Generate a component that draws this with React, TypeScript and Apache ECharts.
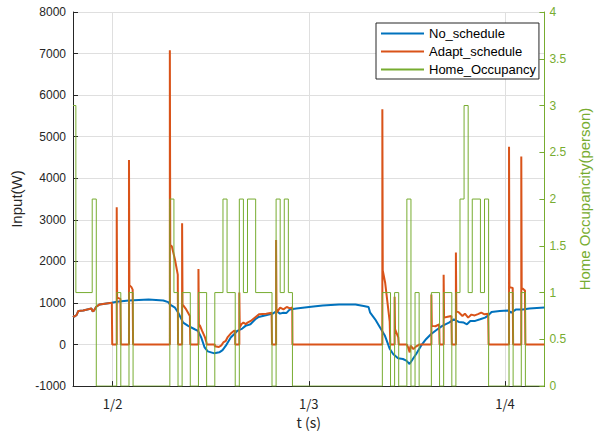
import React, { useEffect, useRef } from "react";
import * as echarts from "echarts";

// time in hours since 1/1 00:00
const xTickValues = [24, 48, 72];
const xTickLabels = ["1/2", "1/3", "1/4"];

const noSchedT = [19.15, 19.3, 19.6, 19.8, 20.4, 21.4, 21.55, 21.7, 22.0, 22.4, 23.9, 24.5, 26, 28.4, 30.2, 30.8, 31.03, 31.63, 32.03, 32.63, 33.24, 34.04, 34.44, 34.84, 35.25, 35.64, 36.45, 37.05, 37.45, 37.85, 38.45, 38.86, 39.26, 39.86, 40.26, 40.86, 41.46, 41.87, 42.87, 43.59, 44.07, 44.47, 44.88, 45.28, 45.68, 46.48, 48.29, 49.7, 51.7, 53.71, 54.71, 55.31, 55.51, 56.12, 56.72, 57.32, 57.92, 58.32, 58.92, 59.52, 59.93, 60.33, 60.73, 61.14, 61.74, 62.34, 62.94, 63.74, 64.34, 65.15, 65.75, 66.35, 66.96, 67.35, 67.76, 68.36, 68.96, 69.57, 69.96, 70.36, 71.37, 72.37, 72.77, 73.37, 74.18, 74.99, 76.83];
const noSchedV = [690, 670, 711, 807, 821, 869, 800, 810, 910, 965, 1005, 1030, 1060, 1084, 1060, 1020, 960, 886, 766, 528, 449, 368, 330, 170, -69, -165, -212, -188, -133, -28, 170, 248, 330, 384, 449, 487, 607, 664, 711, 743, 807, 743, 766, 760, 845, 869, 910, 941, 965, 965, 926, 902, 766, 607, 408, 210, -109, -229, -332, -348, -387, -468, -348, -229, -28, 129, 248, 368, 449, 528, 607, 544, 528, 487, 568, 568, 607, 647, 700, 783, 807, 821, 766, 845, 845, 869, 893];

const adaptT = [19.15, 19.3, 19.6, 19.8, 20.4, 21.4, 21.55, 21.7, 22.0, 22.4, 23.9, 23.95,
  24.5, 24.5, 24.55, 24.95, 25.0,
  26.0, 26.0, 26.05, 26.3, 26.45, 26.5,
  31.0, 31.0, 31.05, 31.25, 31.63, 31.97, 32.0,
  32.5, 32.5, 32.55, 33.0, 33.45, 33.5,
  34.5, 34.5, 34.55, 34.7, 34.95, 35.3, 35.48, 35.5,
  36.5, 36.5, 37.0, 37.3, 37.54, 37.85, 38.05, 38.45, 38.86, 39.0, 39.0,
  39.5, 39.5, 39.55, 39.75, 40.0, 40.3, 40.5, 40.9, 41.5, 41.9, 42.8, 43.45, 43.5,
  44.0, 44.0, 44.05, 44.5, 44.9, 45.3, 45.7, 45.98, 46.0,
  57.0, 57.0, 57.05, 57.35, 57.9, 57.97,
  58.5, 58.5, 58.55, 58.95, 59.0,
  60.0, 60.15, 60.35, 60.45, 60.6, 60.8, 61.1, 61.4, 61.5,
  63.0, 63.0, 63.05, 63.5, 63.95, 64.0,
  64.5, 64.5, 64.55, 65.0, 65.45, 65.5,
  66.0, 66.0, 66.05, 66.4, 66.8, 67.1, 67.5, 67.9, 68.3, 68.7, 69.1, 69.5, 69.95, 70.0,
  72.5, 72.5, 72.55, 72.95, 73.0,
  74.0, 74.0, 74.05, 74.45, 74.5,
  76.83];
const adaptV = [690, 670, 711, 807, 821, 869, 800, 810, 910, 965, 1005, 0,
  0, 3300, 1130, 1100, 0,
  0, 4440, 1430, 1380, 1320, 0,
  0, 7080, 2400, 2360, 2039, 1681, 0,
  0, 2915, 965, 845, 687, 0,
  0, 1817, 487, 449, 330, 170, 50, 0,
  0, -40, -60, -20, 50, 90, 170, 265, 330, 330, 0,
  0, 1250, 408, 487, 528, 490, 528, 568, 664, 726, 743, 766, 0,
  0, 2516, 766, 886, 845, 902, 870, 890, 0,
  0, 5660, 1780, 1480, 550, 0,
  0, 1150, 370, 170, 0,
  0, -69, -188, -28, -60, -110, -50, -15, 0,
  0, 1203, 449, 440, 487, 0,
  0, 1681, 647, 670, 687, 0,
  0, 2215, 807, 766, 687, 743, 647, 720, 700, 730, 766, 726, 740, 0,
  0, 4760, 1380, 1363, 0,
  0, 4521, 1363, 1300, 0,
  0];

const occT = [19.15, 19.5, 21.5, 22, 24.5, 25, 26, 26.5, 31, 31.5, 32, 32.5, 33.5, 34.5, 35.5, 36.5, 37.5, 38, 39, 39.5, 40, 40.5, 41.5, 43.5, 44, 44.5, 45, 45.5, 46, 57, 58, 58.5, 59, 60, 60.5, 61, 61.5, 63, 64, 64.5, 65.5, 66, 66.5, 67, 67.5, 68, 69, 69.5, 70, 72.5, 73, 74, 74.5, 76.83];
const occV = [3, 1, 2, 0, 1, 0, 1, 0, 2, 1, 0, 1, 0, 1, 0, 1, 2, 1, 0, 2, 1, 2, 1, 0, 2, 1, 2, 1, 0, 1, 0, 1, 0, 2, 0, 1, 0, 1, 0, 1, 0, 1, 2, 3, 1, 2, 1, 2, 0, 1, 0, 1, 0, 0];

const zip = (t: number[], v: number[]) => t.map((x, i) => [x, v[i]]);

const BLUE = "#0072BD";
const ORANGE = "#D95319";
const GREEN = "#77AC30";
const DARK = "#262626";
const GRID = "#dfdfdf";
const SANS = "'Liberation Sans', Arial, sans-serif";
const JP = "'Noto Sans CJK JP', sans-serif";

export default function App() {
  const ref = useRef<HTMLDivElement>(null);
  useEffect(() => {
    if (!ref.current) return;
    const chart = echarts.init(ref.current, null, { renderer: "svg" });
    chart.setOption({
      animation: false,
      grid: { left: 73, right: 48, top: 12, bottom: 45, containLabel: false },
      legend: {
        orient: "vertical",
        left: 376,
        top: 23,
        itemWidth: 43,
        itemHeight: 12,
        itemGap: 5,
        padding: [4, 3, 3, 4],
        borderColor: DARK,
        borderWidth: 1,
        backgroundColor: "#fff",
        itemStyle: { opacity: 0 },
        textStyle: { fontFamily: SANS, fontSize: 13, color: "#000" },
        data: ["No_schedule", "Adapt_schedule", "Home_Occupancy"],
      },
      xAxis: {
        type: "value",
        min: 19.15,
        max: 76.83,
        axisLine: { show: true, onZero: false, lineStyle: { color: DARK } },
        axisTick: { show: true, inside: true, length: 5, customValues: xTickValues, lineStyle: { color: DARK } },
        axisLabel: {
          customValues: xTickValues,
          formatter: (v: number) => xTickLabels[xTickValues.indexOf(v)] ?? "",
          fontFamily: JP,
          fontSize: 13,
          color: DARK,
          margin: 11,
        },
        splitLine: { show: true, lineStyle: { color: GRID } },
        name: "t (s)",
        nameLocation: "middle",
        nameGap: 28,
        nameTextStyle: { fontFamily: JP, fontSize: 14, color: DARK },
      },
      yAxis: [
        {
          type: "value",
          position: "left",
          min: -1000,
          max: 8000,
          interval: 1000,
          axisLine: { show: true, onZero: false, lineStyle: { color: DARK } },
          axisTick: { show: true, inside: true, length: 5, lineStyle: { color: DARK } },
          axisLabel: { fontFamily: SANS, fontSize: 12, color: DARK, margin: 7, formatter: (v: number) => String(v) },
          splitLine: { show: true, lineStyle: { color: GRID } },
          name: "Input(W)",
          nameLocation: "middle",
          nameRotate: 90,
          nameGap: 46,
          nameTextStyle: { fontFamily: SANS, fontSize: 15, color: DARK },
        },
        {
          type: "value",
          position: "right",
          min: 0,
          max: 4,
          interval: 0.5,
          axisLine: { show: true, onZero: false, lineStyle: { color: GREEN } },
          axisTick: { show: true, inside: true, length: 5, lineStyle: { color: GREEN } },
          axisLabel: { fontFamily: SANS, fontSize: 12, color: GREEN, margin: 5, formatter: (v: number) => String(v) },
          splitLine: { show: false },
          name: "Home Occupancity(person)",
          nameLocation: "middle",
          nameRotate: 90,
          nameGap: 31,
          nameTextStyle: { fontFamily: SANS, fontSize: 15, color: GREEN },
        },
      ],
      series: [
        {
          name: "No_schedule",
          type: "line",
          yAxisIndex: 0,
          data: zip(noSchedT, noSchedV),
          symbol: "none",
          lineStyle: { color: BLUE, width: 2 },
          itemStyle: { color: BLUE },
          z: 2,
        },
        {
          name: "Adapt_schedule",
          type: "line",
          yAxisIndex: 0,
          data: zip(adaptT, adaptV),
          symbol: "none",
          lineStyle: { color: ORANGE, width: 2 },
          itemStyle: { color: ORANGE },
          z: 3,
        },
        {
          name: "Home_Occupancy",
          type: "line",
          yAxisIndex: 1,
          step: "end",
          data: zip(occT, occV),
          symbol: "none",
          lineStyle: { color: GREEN, width: 1 },
          itemStyle: { color: GREEN },
          z: 4,
        },
      ],
    });
    return () => chart.dispose();
  }, []);
  return (
    <div
      ref={ref}
      style={{ position: "fixed", left: 0, top: 0, width: 600, height: 434, background: "#fff" }}
    />
  );
}
